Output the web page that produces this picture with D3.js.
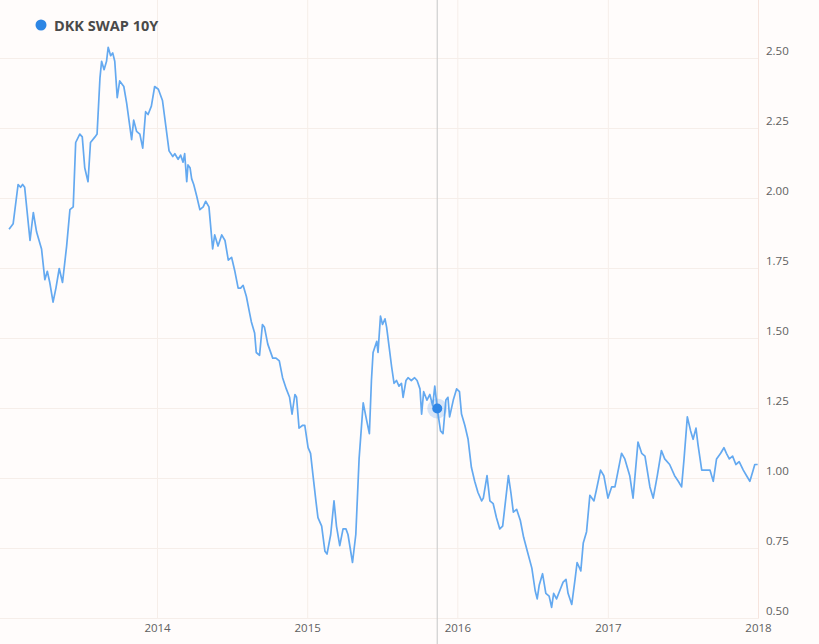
<!DOCTYPE html>
<html>
<head>
<meta charset="utf-8">
<script src="https://cdn.jsdelivr.net/npm/d3@7"></script>
<style>
  body { margin: 0; background: #fffcfb; }
  svg { display: block; }
</style>
</head>
<body>
<script>
// DKK 10Y swap rate, weekly-ish readings
const weeks = [
  "2013-01-05","2013-01-15","2013-01-27","2013-02-02","2013-02-07","2013-02-12","2013-02-25","2013-03-05","2013-03-13","2013-03-25",
  "2013-04-02","2013-04-08","2013-04-14","2013-04-22","2013-04-29","2013-05-07","2013-05-15","2013-05-25","2013-06-02","2013-06-10",
  "2013-06-16","2013-06-26","2013-07-02","2013-07-08","2013-07-16","2013-07-22","2013-08-02","2013-08-07","2013-08-14","2013-08-18",
  "2013-08-24","2013-08-30","2013-09-03","2013-09-09","2013-09-14","2013-09-19","2013-09-25","2013-10-01","2013-10-11","2013-10-18",
  "2013-10-30","2013-11-04","2013-11-11","2013-11-19","2013-11-26","2013-12-03","2013-12-09","2013-12-17","2013-12-25","2014-01-03",
  "2014-01-13","2014-01-21","2014-01-29","2014-02-07","2014-02-12","2014-02-20","2014-02-26","2014-03-04","2014-03-08","2014-03-13",
  "2014-03-16","2014-03-21","2014-03-25","2014-03-30","2014-04-06","2014-04-14","2014-04-22","2014-04-28","2014-05-06","2014-05-15",
  "2014-05-20","2014-05-28","2014-06-06","2014-06-14","2014-06-22","2014-06-30","2014-07-08","2014-07-16","2014-07-22","2014-07-28",
  "2014-08-05","2014-08-13","2014-08-17","2014-08-25","2014-08-29","2014-09-06","2014-09-13","2014-09-18","2014-09-26","2014-10-08",
  "2014-10-16","2014-10-24","2014-11-01","2014-11-10","2014-11-18","2014-11-24","2014-12-01","2014-12-05","2014-12-11","2014-12-20",
  "2014-12-25","2015-01-02","2015-01-08","2015-01-14","2015-01-21","2015-01-26","2015-02-04","2015-02-12","2015-02-17","2015-02-26",
  "2015-03-06","2015-03-12","2015-03-20","2015-03-28","2015-04-04","2015-04-09","2015-04-20","2015-04-28","2015-05-06","2015-05-16",
  "2015-05-24","2015-05-31","2015-06-05","2015-06-09","2015-06-18","2015-06-21","2015-06-27","2015-07-02","2015-07-08","2015-07-12",
  "2015-07-18","2015-07-24","2015-07-30","2015-08-05","2015-08-11","2015-08-17","2015-08-21","2015-08-28","2015-09-02","2015-09-10",
  "2015-09-18","2015-09-24","2015-10-01","2015-10-05","2015-10-10","2015-10-18","2015-10-25","2015-11-01","2015-11-06","2015-11-12",
  "2015-11-20","2015-11-26","2015-12-03","2015-12-08","2015-12-12","2015-12-21","2015-12-29","2016-01-05","2016-01-10","2016-01-18",
  "2016-01-26","2016-02-03","2016-02-11","2016-02-19","2016-02-28","2016-03-03","2016-03-12","2016-03-19","2016-03-27","2016-04-04",
  "2016-04-12","2016-04-19","2016-05-03","2016-05-09","2016-05-15","2016-05-23","2016-06-01","2016-06-09","2016-06-18","2016-06-29",
  "2016-07-07","2016-07-12","2016-07-17","2016-07-25","2016-08-02","2016-08-10","2016-08-16","2016-08-21","2016-08-28","2016-09-05",
  "2016-09-13","2016-09-20","2016-09-25","2016-10-04","2016-10-12","2016-10-17","2016-10-26","2016-11-01","2016-11-09","2016-11-17",
  "2016-11-27","2016-12-03","2016-12-13","2016-12-21","2016-12-31","2017-01-09","2017-01-17","2017-02-02","2017-02-10","2017-02-22",
  "2017-03-02","2017-03-14","2017-03-23","2017-03-31","2017-04-12","2017-04-20","2017-04-30","2017-05-10","2017-05-18","2017-05-30",
  "2017-06-11","2017-06-20","2017-06-28","2017-07-04","2017-07-12","2017-07-20","2017-07-26","2017-08-02","2017-08-07","2017-08-16",
  "2017-08-26","2017-09-05","2017-09-13","2017-09-21","2017-10-01","2017-10-09","2017-10-15","2017-10-22","2017-10-30","2017-11-07",
  "2017-11-15","2017-11-25","2017-12-03","2017-12-11","2017-12-17","2017-12-23","2017-12-30"
]

const swap10y = [
  1.89,1.91,2.05,2.04,2.05,2.04,1.85,1.95,1.88,1.82,
  1.71,1.74,1.70,1.63,1.68,1.75,1.70,1.83,1.96,1.97,
  2.20,2.23,2.22,2.11,2.06,2.20,2.22,2.23,2.43,2.49,
  2.46,2.49,2.54,2.51,2.52,2.49,2.36,2.42,2.40,2.34,
  2.21,2.28,2.24,2.23,2.18,2.31,2.30,2.33,2.40,2.39,
  2.35,2.26,2.17,2.15,2.16,2.14,2.155,2.13,2.16,2.06,
  2.12,2.11,2.07,2.05,2.01,1.96,1.97,1.99,1.97,1.82,
  1.87,1.83,1.87,1.85,1.78,1.79,1.74,1.68,1.68,1.69,
  1.65,1.59,1.56,1.52,1.45,1.44,1.55,1.54,1.48,1.43,
  1.43,1.42,1.36,1.32,1.29,1.23,1.30,1.29,1.18,1.19,
  1.19,1.11,1.09,1.01,0.92,0.86,0.83,0.74,0.73,0.80,
  0.92,0.83,0.76,0.82,0.82,0.80,0.70,0.80,1.07,1.27,
  1.21,1.16,1.35,1.45,1.49,1.45,1.58,1.55,1.57,1.54,
  1.47,1.40,1.34,1.35,1.33,1.34,1.29,1.35,1.36,1.35,
  1.36,1.35,1.32,1.23,1.31,1.28,1.30,1.26,1.33,1.25,
  1.17,1.16,1.28,1.29,1.22,1.28,1.32,1.31,1.23,1.19,
  1.14,1.04,0.99,0.95,0.92,0.93,1.01,0.92,0.91,0.86,
  0.82,0.83,1.01,0.95,0.88,0.89,0.85,0.79,0.74,0.68,
  0.60,0.57,0.62,0.66,0.59,0.58,0.54,0.59,0.57,0.60,
  0.63,0.64,0.59,0.55,0.64,0.70,0.67,0.77,0.81,0.94,
  0.92,0.96,1.03,1.01,0.93,0.97,0.97,1.09,1.07,1.01,
  0.93,1.13,1.09,1.08,0.97,0.93,1.01,1.10,1.07,1.05,
  1.01,0.99,0.97,1.07,1.22,1.17,1.14,1.18,1.12,1.03,
  1.03,1.03,0.99,1.07,1.09,1.11,1.09,1.07,1.08,1.05,
  1.06,1.03,1.01,0.99,1.02,1.05,1.05
]

const yTicks = [0.50, 0.75, 1.00, 1.25, 1.50, 1.75, 2.00, 2.25, 2.50]
const xYears = ["2014", "2015", "2016", "2017", "2018"]
const seriesName = "DKK SWAP 10Y"
const hoverDate = "2015-11-12"

const W = 819, H = 644
const parse = d3.timeParse("%Y-%m-%d")
const data = weeks.map((w, i) => ({ date: parse(w), value: swap10y[i] }))

const svg = d3.select("body").append("svg")
    .attr("width", W)
    .attr("height", H)

svg.append("rect").attr("width", W).attr("height", H).attr("fill", "#fffcfb")

const x = d3.scaleTime()
    .domain([new Date(2013, 0, 1), new Date(2018, 0, 1)])
    .range([7.4, 758.5])

const y = d3.scaleLinear()
    .domain([0.5, 2.5])
    .range([618.5, 58.5])

// horizontal grid
svg.selectAll(".hgrid")
    .data(yTicks)
    .enter()
    .append("line")
    .attr("class", "hgrid")
    .attr("x1", 0)
    .attr("x2", x.range()[1])
    .attr("y1", d => y(d))
    .attr("y2", d => y(d))
    .attr("stroke", "#f6eee9")
    .attr("stroke-width", 1)

// vertical grid at years
svg.selectAll(".vgrid")
    .data(xYears)
    .enter()
    .append("line")
    .attr("class", "vgrid")
    .attr("x1", d => x(new Date(+d, 0, 1)))
    .attr("x2", d => x(new Date(+d, 0, 1)))
    .attr("y1", 0)
    .attr("y2", y(0.5))
    .attr("stroke", d => d === "2018" ? "#f6e4dd" : "#f6eee9")
    .attr("stroke-width", 1)

// y labels on the right, sitting above the grid lines
svg.selectAll(".ylab")
    .data(yTicks)
    .enter()
    .append("text")
    .attr("class", "ylab")
    .attr("x", 766)
    .attr("y", d => y(d) - 4)
    .attr("font-family", "Open Sans, sans-serif")
    .attr("font-size", 11.5)
    .attr("fill", "#606060")
    .text(d => d3.format(".2f")(d))

// x labels
svg.selectAll(".xlab")
    .data(xYears)
    .enter()
    .append("text")
    .attr("class", "xlab")
    .attr("x", d => x(new Date(+d, 0, 1)))
    .attr("y", 632)
    .attr("text-anchor", "middle")
    .attr("font-family", "Open Sans, sans-serif")
    .attr("font-size", 11.5)
    .attr("fill", "#606060")
    .text(d => d)

// crosshair
const hx = x(parse(hoverDate))
svg.append("line")
    .attr("x1", hx).attr("x2", hx)
    .attr("y1", 0).attr("y2", H)
    .attr("stroke", "#cfcfcf")
    .attr("stroke-width", 1.2)

const line = d3.line()
    .x(d => x(d.date))
    .y(d => y(d.value))

svg.append("path")
    .datum(data)
    .attr("d", line)
    .attr("fill", "none")
    .attr("stroke", "#64a9f0")
    .attr("stroke-width", 1.7)
    .attr("stroke-linejoin", "round")

// hovered point
const hp = data.find(d => +d.date === +parse(hoverDate))
svg.append("circle")
    .attr("cx", x(hp.date)).attr("cy", y(hp.value))
    .attr("r", 10)
    .attr("fill", "#4a98ec")
    .attr("opacity", 0.22)
svg.append("circle")
    .attr("cx", x(hp.date)).attr("cy", y(hp.value))
    .attr("r", 5)
    .attr("fill", "#2f86e6")

// legend
svg.append("circle")
    .attr("cx", 41).attr("cy", 25)
    .attr("r", 5.5)
    .attr("fill", "#2d86e4")
svg.append("text")
    .attr("x", 54).attr("y", 30.5)
    .attr("font-family", "Open Sans, sans-serif")
    .attr("font-weight", "bold")
    .attr("font-size", 14.5)
    .attr("fill", "#4a4a4a")
    .text(seriesName)
</script>
</body>
</html>
